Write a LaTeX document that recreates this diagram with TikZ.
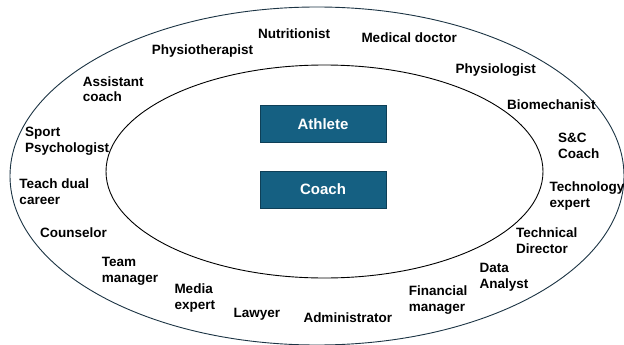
\documentclass[tikz,border=0pt]{standalone}
\usepackage{fontspec}
\setmainfont{Liberation Sans}
\definecolor{boxfill}{HTML}{156082}
\definecolor{boxline}{HTML}{0E3F57}
\definecolor{outerline}{HTML}{1C3444}
\begin{document}
\begin{tikzpicture}[x=1pt,y=-1pt,
  lbl/.style={anchor=base west,inner sep=0pt,font=\fontsize{13.5}{16}\selectfont\bfseries},
  corebox/.style={draw=boxline,line width=0.8pt,fill=boxfill,text=white,minimum width=126pt,minimum height=37pt,inner sep=0pt,font=\fontsize{15}{18}\selectfont\bfseries}]
\newcommand{\twoline}[2]{\def\arraystretch{1}\begin{tabular}[t]{@{}l@{}}#1\\#2\end{tabular}}
\useasboundingbox (0,0) rectangle (624,345);
\fill[white] (0,0) rectangle (624,345);
\begin{scope}
\clip (0,0) rectangle (624,345);
\draw[outerline,line width=0.9pt] (317,176) ellipse [x radius=307, y radius=169];
\end{scope}
\draw[black,line width=0.9pt] (324.5,171.5) ellipse [x radius=218.5, y radius=106.5];
\node[corebox] (athlete) at (323,124.2) {Athlete};
\node[corebox] (coach) at (323,189.6) {Coach};
% top and clockwise
\node[lbl] (nutri) at (258,39) {Nutritionist};
\node[lbl] (physio) at (151.7,54.5) {Physiotherapist};
\node[lbl] (med) at (361.3,42.7) {Medical doctor};
\node[lbl] (phys) at (455.3,74) {Physiologist};
\node[lbl] (bio) at (507,110) {Biomechanist};
\node[lbl] (snc) at (558,142.7) {\twoline{S\&C}{Coach}};
\node[lbl] (tech) at (549.3,191.3) {\twoline{Technology}{expert}};
\node[lbl] (techdir) at (516,237) {\twoline{Technical}{Director}};
\node[lbl] (data) at (479.3,272.7) {\twoline{Data}{Analyst}};
\node[lbl] (fin) at (408.7,295.3) {\twoline{Financial}{manager}};
\node[lbl] (admin) at (303.3,322) {Administrator};
\node[lbl] (lawyer) at (233.3,317) {Lawyer};
\node[lbl] (media) at (174.3,293) {\twoline{Media}{expert}};
\node[lbl] (team) at (101.7,266.3) {\twoline{Team}{manager}};
\node[lbl] (couns) at (40,237.3) {Counselor};
\node[lbl] (dual) at (19.3,188) {\twoline{Teach dual}{career}};
\node[lbl] (sport) at (25,136) {\twoline{Sport}{Psychologist}};
\node[lbl] (asst) at (82.7,86) {\twoline{Assistant}{coach}};
\end{tikzpicture}
\end{document}
